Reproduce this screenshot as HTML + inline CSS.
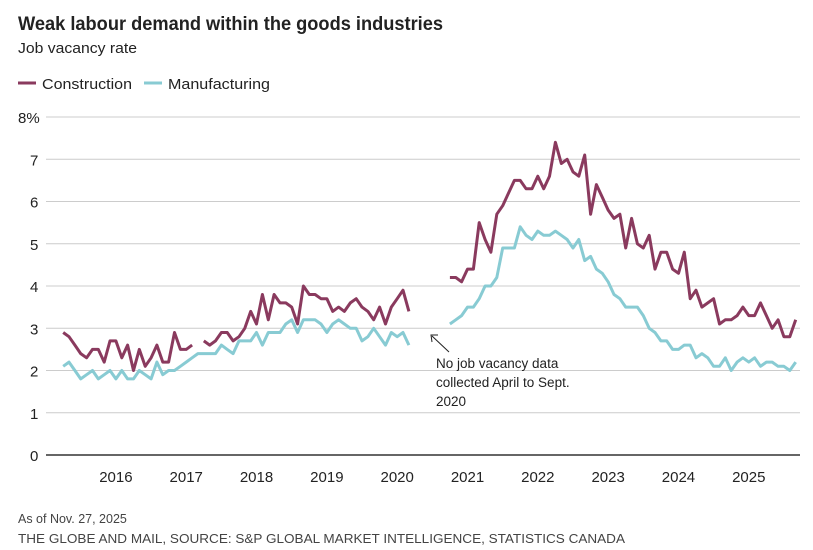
<!DOCTYPE html>
<html><head><meta charset="utf-8">
<style>
body{margin:0;background:#fff;width:813px;height:545px;overflow:hidden;font-family:"Liberation Sans",sans-serif;}
</style></head><body>
<svg id="s" width="813" height="545" xmlns="http://www.w3.org/2000/svg" font-family="Liberation Sans, sans-serif">
<text x="18" y="30" font-size="19" font-weight="bold" fill="#222" textLength="425" lengthAdjust="spacingAndGlyphs">Weak labour demand within the goods industries</text>
<text x="18" y="53" font-size="15" fill="#222" textLength="119" lengthAdjust="spacingAndGlyphs">Job vacancy rate</text>
<line x1="18" y1="83" x2="36" y2="83" stroke="#8a3a5e" stroke-width="3"/>
<text x="42" y="89" font-size="15" fill="#222" textLength="90" lengthAdjust="spacingAndGlyphs">Construction</text>
<line x1="144" y1="83" x2="162" y2="83" stroke="#88cbd3" stroke-width="3"/>
<text x="168" y="89" font-size="15" fill="#222" textLength="102" lengthAdjust="spacingAndGlyphs">Manufacturing</text>
<g id="g"></g>
<text x="436" y="368" font-size="13.5" fill="#222">No job vacancy data</text>
<text x="436" y="387" font-size="13.5" fill="#222">collected April to Sept.</text>
<text x="436" y="406" font-size="13.5" fill="#222">2020</text>
<line x1="449" y1="352" x2="432" y2="336" stroke="#222" stroke-width="1"/>
<polyline points="432,342 431,335 438,335" fill="none" stroke="#222" stroke-width="1"/>
<text x="18" y="523" font-size="12.5" fill="#444">As of Nov. 27, 2025</text>
<text x="18" y="543" font-size="12.5" fill="#444" textLength="607" lengthAdjust="spacingAndGlyphs">THE GLOBE AND MAIL, SOURCE: S&amp;P GLOBAL MARKET INTELLIGENCE, STATISTICS CANADA</text>
</svg>
<script>
var g=document.getElementById('g'),h='';
function Y(v){return 455-v*42.25;}
function X(m){return 115.9+m*5.86;}
for(var v=1;v<=8;v++){h+='<line x1="46" x2="800" y1="'+Y(v)+'" y2="'+Y(v)+'" stroke="#ccc" stroke-width="1"/>';
h+='<text x="'+(v==8?18:30)+'" y="'+(Y(v)+6)+'" font-size="15" fill="#222">'+v+(v==8?'%':'')+'</text>';}
h+='<text x="30" y="461" font-size="15" fill="#222">0</text>';
h+='<line x1="46" x2="800" y1="455" y2="455" stroke="#333" stroke-width="1.5"/>';
for(var y=2016;y<=2025;y++){var x=X((y-2016)*12);h+='<text x="'+x+'" y="482" font-size="15" fill="#222" text-anchor="middle">'+y+'</text>';}
function line(start,arr,col){var p=[];arr.forEach(function(v,i){if(v!=null)p.push(X(start+i).toFixed(1)+','+Y(v).toFixed(1));else{if(p.length)h+='<polyline points="'+p.join(' ')+'" fill="none" stroke="'+col+'" stroke-width="3" stroke-linejoin="round"/>';p=[];}});
if(p.length)h+='<polyline points="'+p.join(' ')+'" fill="none" stroke="'+col+'" stroke-width="3" stroke-linejoin="round"/>';}
var c1=[2.9,2.8,2.6,2.4,2.3,2.5,2.5,2.2,2.7,2.7,2.3,2.6,2.0,2.5,2.1,2.3,2.6,2.2,2.2,2.9,2.5,2.5,2.6,null,
2.7,2.6,2.7,2.9,2.9,2.7,2.8,3.0,3.4,3.1,3.8,3.2,3.8,3.6,3.6,3.5,3.1,4.0,3.8,3.8,3.7,3.7,3.4,3.5,3.4,3.6,3.7,3.5,3.4,3.2,3.5,3.1,3.5,3.7,3.9,3.4];
var m1=[2.1,2.2,2.0,1.8,1.9,2.0,1.8,1.9,2.0,1.8,2.0,1.8,1.8,2.0,1.9,1.8,2.2,1.9,2.0,2.0,2.1,2.2,2.3,2.4,2.4,2.4,2.4,2.6,2.5,2.4,2.7,2.7,2.7,2.9,2.6,2.9,2.9,2.9,3.1,3.2,2.9,3.2,3.2,3.2,3.1,2.9,3.1,3.2,3.1,3.0,3.0,2.7,2.8,3.0,2.8,2.6,2.9,2.8,2.9,2.6];
var c2=[4.2,4.2,4.1,4.4,4.4,5.5,5.1,4.8,5.7,5.9,6.2,6.5,6.5,6.3,6.3,6.6,6.3,6.6,7.4,6.9,7.0,6.7,6.6,7.1,5.7,6.4,6.1,5.8,5.6,5.7,4.9,5.6,5.0,4.9,5.2,4.4,4.8,4.8,4.4,4.3,4.8,3.7,3.9,3.5,3.6,3.7,3.1,3.2,3.2,3.3,3.5,3.3,3.3,3.6,3.3,3.0,3.2,2.8,2.8,3.2];
var m2=[3.1,3.2,3.3,3.5,3.5,3.7,4.0,4.0,4.2,4.9,4.9,4.9,5.4,5.2,5.1,5.3,5.2,5.2,5.3,5.2,5.1,4.9,5.1,4.6,4.7,4.4,4.3,4.1,3.8,3.7,3.5,3.5,3.5,3.3,3.0,2.9,2.7,2.7,2.5,2.5,2.6,2.6,2.3,2.4,2.3,2.1,2.1,2.3,2.0,2.2,2.3,2.2,2.3,2.1,2.2,2.2,2.1,2.1,2.0,2.2];
line(-9,m1,'#88cbd3');line(57,m2,'#88cbd3');line(-9,c1,'#8a3a5e');line(57,c2,'#8a3a5e');
g.innerHTML=h;
</script>
</body></html>
